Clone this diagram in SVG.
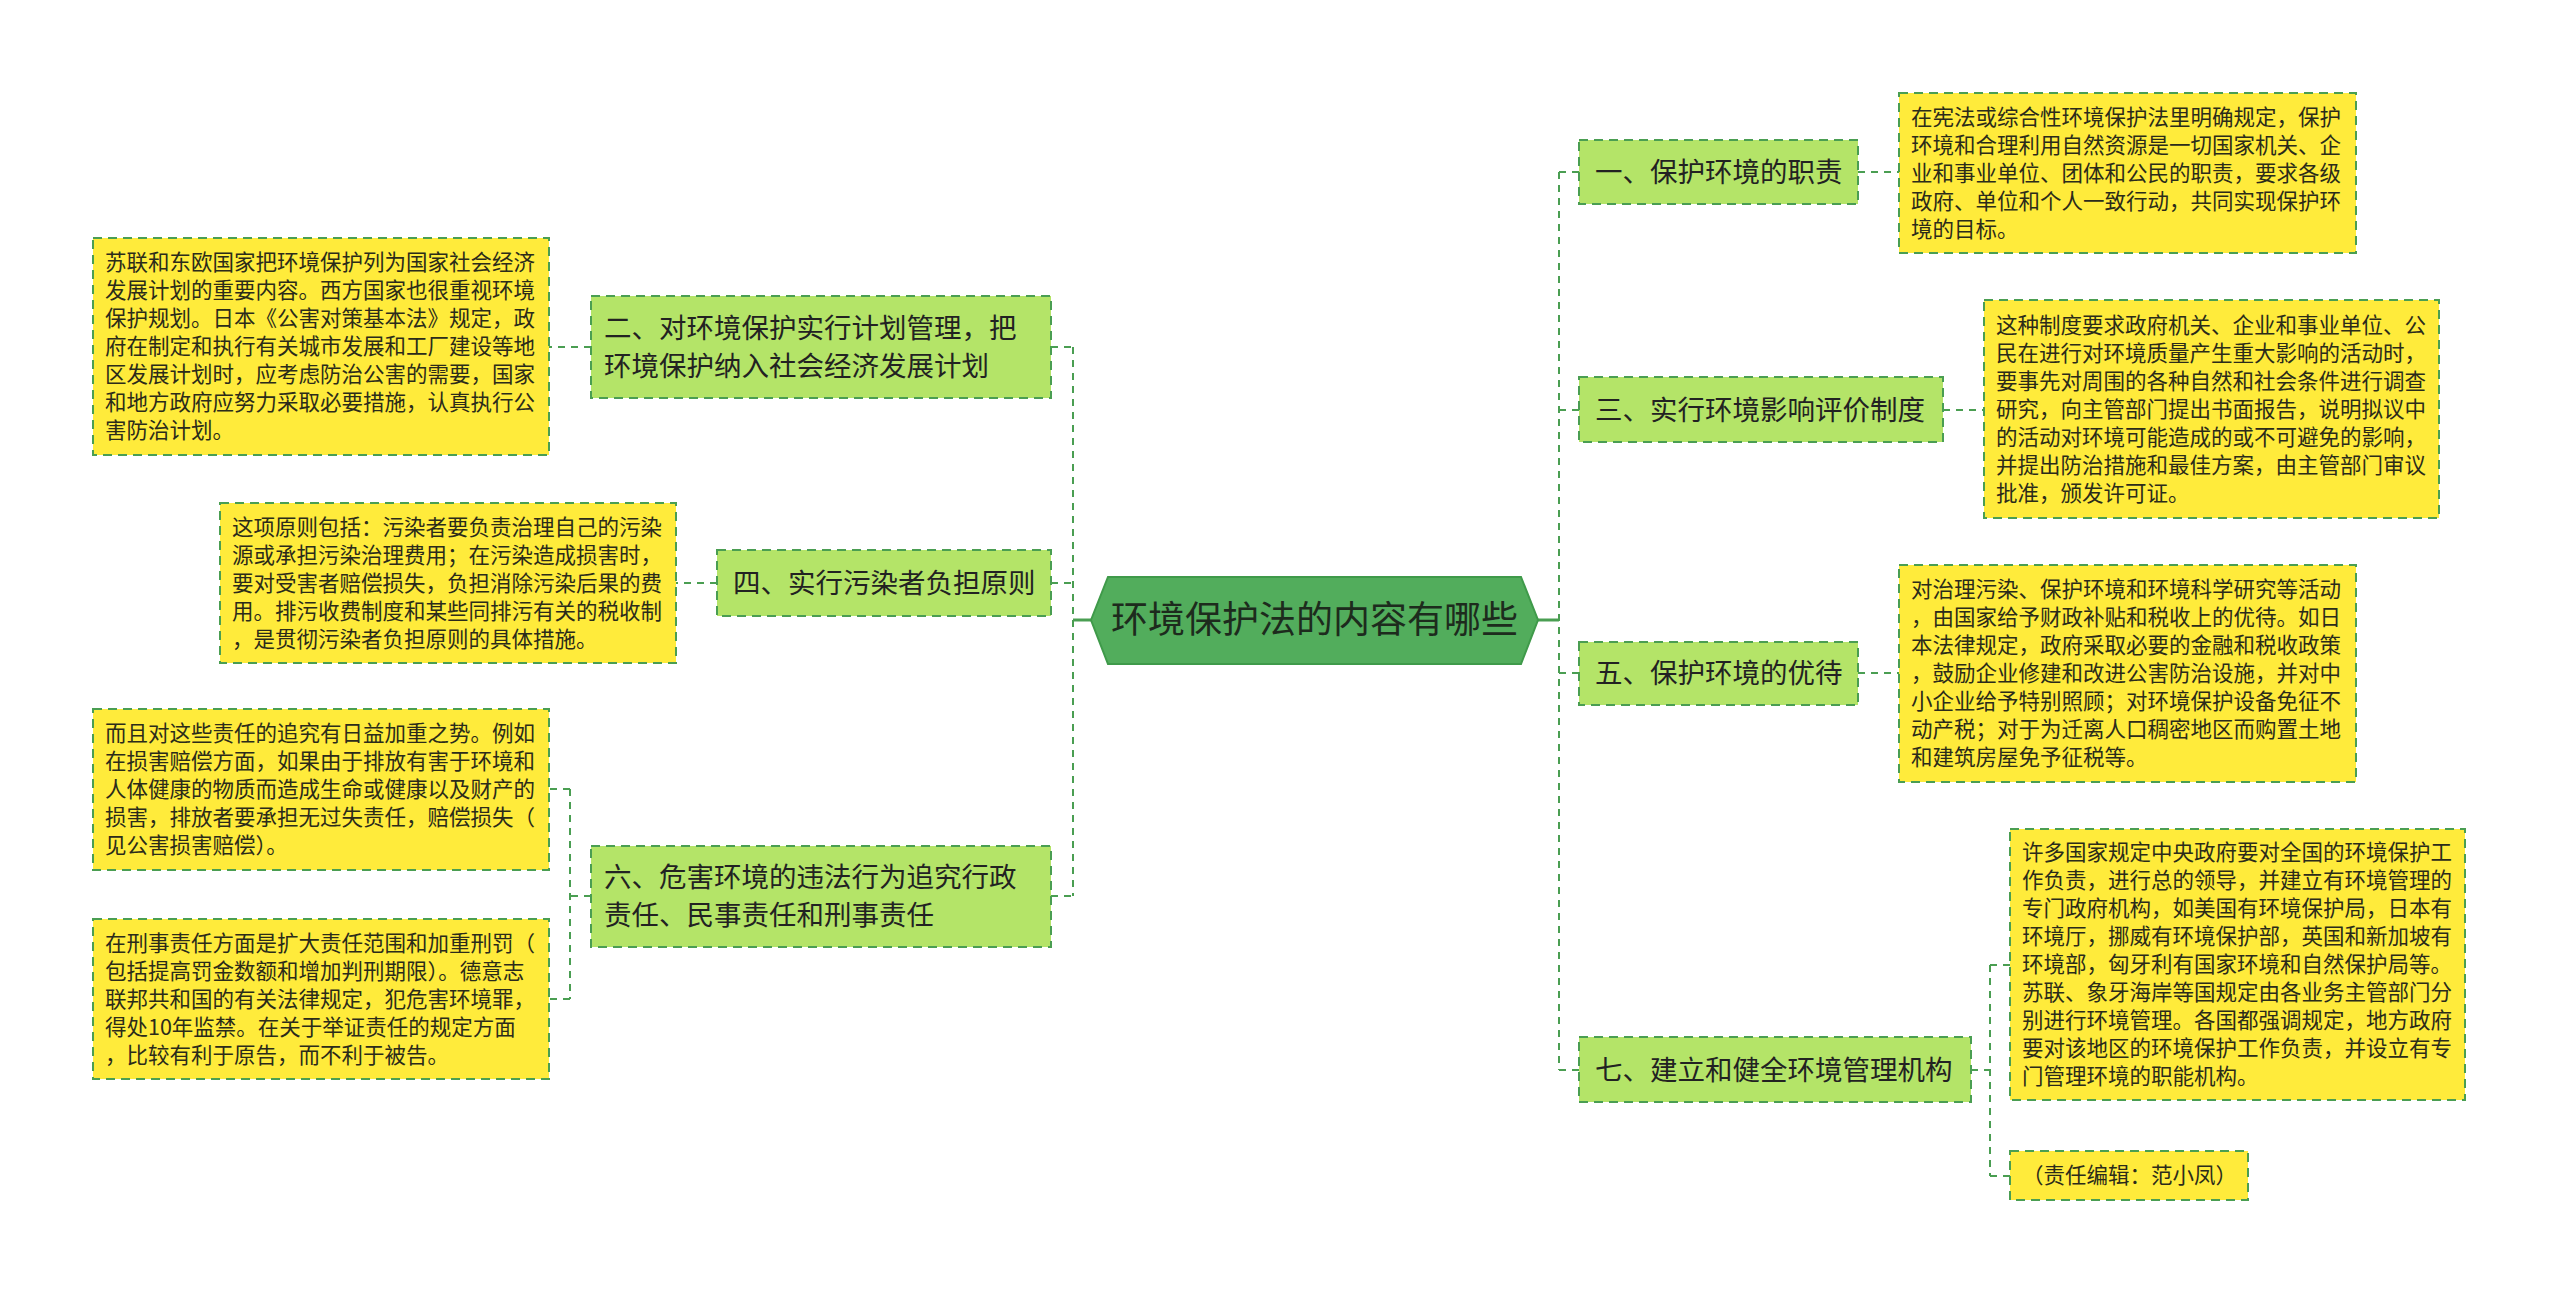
<svg xmlns="http://www.w3.org/2000/svg" width="2560" height="1291" viewBox="0 0 2560 1291">
<style>
text{font-family:"Noto Sans CJK SC","Liberation Sans",sans-serif;fill:#2b2b1a;}
.y rect{fill:#ffeb3b;stroke:#4a9e52;stroke-width:2;stroke-dasharray:9 6;}
.y text{font-size:21.5px;}
.g rect{fill:#b4e468;stroke:#4a9e52;stroke-width:2;stroke-dasharray:9 6;}
.g text{font-size:27.5px;fill:#222;}
.c text{font-size:37px;fill:#1d2b1d;}
.ln{fill:none;stroke:#4a9e52;stroke-width:2;stroke-dasharray:7 6;}
</style>
<rect width="2560" height="1291" fill="#fff"/>
<g id="connectors">
<path class="ln" d="M1073 347V896M1051 347H1073M1051 583H1073M1051 896H1073"/>
<path d="M1073 620H1091" stroke="#4a9e52" stroke-width="3" fill="none"/>
<path class="ln" d="M1559 172V1070M1559 172H1579M1559 410H1579M1559 673H1579M1559 1070H1579"/>
<path d="M1538 620H1559" stroke="#4a9e52" stroke-width="3" fill="none"/>
<path class="ln" d="M1858 172H1899M1943 410H1984M1858 673H1899M1971 1070H1990M1990 965V1176M1990 965H2010M1990 1176H2010"/>
<path class="ln" d="M591 347H549M717 583H676M591 896H570M570 789V999M570 789H549M570 999H549"/>
</g>
<g id="center" class="c">
<polygon points="1091,620 1108,577 1521,577 1538,620 1521,664 1108,664" fill="#52ad5c" stroke="#3f9a4a" stroke-width="2"/>
<text x="1314.5" y="633" text-anchor="middle">环境保护法的内容有哪些</text>
</g>
<g id="n1" class="g"><rect x="1579" y="140" width="279" height="64"/><text x="1595" y="182">一、保护环境的职责</text></g>
<g id="n3" class="g"><rect x="1579" y="377" width="364" height="65"/><text x="1595" y="420">三、实行环境影响评价制度</text></g>
<g id="n5" class="g"><rect x="1579" y="642" width="279" height="63"/><text x="1595" y="683">五、保护环境的优待</text></g>
<g id="n7" class="g"><rect x="1579" y="1037" width="392" height="65"/><text x="1595" y="1080">七、建立和健全环境管理机构</text></g>
<g id="n2" class="g"><rect x="591" y="296" width="460" height="102"/><text x="604" y="338">二、对环境保护实行计划管理，把</text><text x="604" y="376">环境保护纳入社会经济发展计划</text></g>
<g id="n4" class="g"><rect x="717" y="550" width="334" height="66"/><text x="733" y="593">四、实行污染者负担原则</text></g>
<g id="n6" class="g"><rect x="591" y="846" width="460" height="101"/><text x="604" y="887">六、危害环境的违法行为追究行政</text><text x="604" y="925">责任、民事责任和刑事责任</text></g>
<g id="y1" class="y"><rect x="1899" y="93" width="457" height="160"/>
<text x="1911" y="125">在宪法或综合性环境保护法里明确规定，保护</text>
<text x="1911" y="153">环境和合理利用自然资源是一切国家机关、企</text>
<text x="1911" y="181">业和事业单位、团体和公民的职责，要求各级</text>
<text x="1911" y="209">政府、单位和个人一致行动，共同实现保护环</text>
<text x="1911" y="237">境的目标。</text></g>
<g id="y3" class="y"><rect x="1984" y="300" width="455" height="218"/>
<text x="1996" y="333">这种制度要求政府机关、企业和事业单位、公</text>
<text x="1996" y="361">民在进行对环境质量产生重大影响的活动时，</text>
<text x="1996" y="389">要事先对周围的各种自然和社会条件进行调查</text>
<text x="1996" y="417">研究，向主管部门提出书面报告，说明拟议中</text>
<text x="1996" y="445">的活动对环境可能造成的或不可避免的影响，</text>
<text x="1996" y="473">并提出防治措施和最佳方案，由主管部门审议</text>
<text x="1996" y="501">批准，颁发许可证。</text></g>
<g id="y5" class="y"><rect x="1899" y="565" width="457" height="217"/>
<text x="1911" y="597">对治理污染、保护环境和环境科学研究等活动</text>
<text x="1911" y="625">，由国家给予财政补贴和税收上的优待。如日</text>
<text x="1911" y="653">本法律规定，政府采取必要的金融和税收政策</text>
<text x="1911" y="681">，鼓励企业修建和改进公害防治设施，并对中</text>
<text x="1911" y="709">小企业给予特别照顾；对环境保护设备免征不</text>
<text x="1911" y="737">动产税；对于为迁离人口稠密地区而购置土地</text>
<text x="1911" y="765">和建筑房屋免予征税等。</text></g>
<g id="y7" class="y"><rect x="2010" y="829" width="455" height="271"/>
<text x="2022" y="860">许多国家规定中央政府要对全国的环境保护工</text>
<text x="2022" y="888">作负责，进行总的领导，并建立有环境管理的</text>
<text x="2022" y="916">专门政府机构，如美国有环境保护局，日本有</text>
<text x="2022" y="944">环境厅，挪威有环境保护部，英国和新加坡有</text>
<text x="2022" y="972">环境部，匈牙利有国家环境和自然保护局等。</text>
<text x="2022" y="1000">苏联、象牙海岸等国规定由各业务主管部门分</text>
<text x="2022" y="1028">别进行环境管理。各国都强调规定，地方政府</text>
<text x="2022" y="1056">要对该地区的环境保护工作负责，并设立有专</text>
<text x="2022" y="1084">门管理环境的职能机构。</text></g>
<g id="y8" class="y"><rect x="2010" y="1151" width="238" height="49"/>
<text x="2022" y="1183">（责任编辑：范小凤）</text></g>
<g id="y2" class="y"><rect x="93" y="238" width="456" height="217"/>
<text x="105" y="270">苏联和东欧国家把环境保护列为国家社会经济</text>
<text x="105" y="298">发展计划的重要内容。西方国家也很重视环境</text>
<text x="105" y="326">保护规划。日本《公害对策基本法》规定，政</text>
<text x="105" y="354">府在制定和执行有关城市发展和工厂建设等地</text>
<text x="105" y="382">区发展计划时，应考虑防治公害的需要，国家</text>
<text x="105" y="410">和地方政府应努力采取必要措施，认真执行公</text>
<text x="105" y="438">害防治计划。</text></g>
<g id="y4" class="y"><rect x="220" y="503" width="456" height="160"/>
<text x="232" y="535">这项原则包括：污染者要负责治理自己的污染</text>
<text x="232" y="563">源或承担污染治理费用；在污染造成损害时，</text>
<text x="232" y="591">要对受害者赔偿损失，负担消除污染后果的费</text>
<text x="232" y="619">用。排污收费制度和某些同排污有关的税收制</text>
<text x="232" y="647">，是贯彻污染者负担原则的具体措施。</text></g>
<g id="y6a" class="y"><rect x="93" y="709" width="456" height="161"/>
<text x="105" y="741">而且对这些责任的追究有日益加重之势。例如</text>
<text x="105" y="769">在损害赔偿方面，如果由于排放有害于环境和</text>
<text x="105" y="797">人体健康的物质而造成生命或健康以及财产的</text>
<text x="105" y="825">损害，排放者要承担无过失责任，赔偿损失（</text>
<text x="105" y="853">见公害损害赔偿）。</text></g>
<g id="y6b" class="y"><rect x="93" y="919" width="456" height="160"/>
<text x="105" y="951">在刑事责任方面是扩大责任范围和加重刑罚（</text>
<text x="105" y="979">包括提高罚金数额和增加判刑期限）。德意志</text>
<text x="105" y="1007">联邦共和国的有关法律规定，犯危害环境罪，</text>
<text x="105" y="1035">得处10年监禁。在关于举证责任的规定方面</text>
<text x="105" y="1063">，比较有利于原告，而不利于被告。</text></g>
</svg>
